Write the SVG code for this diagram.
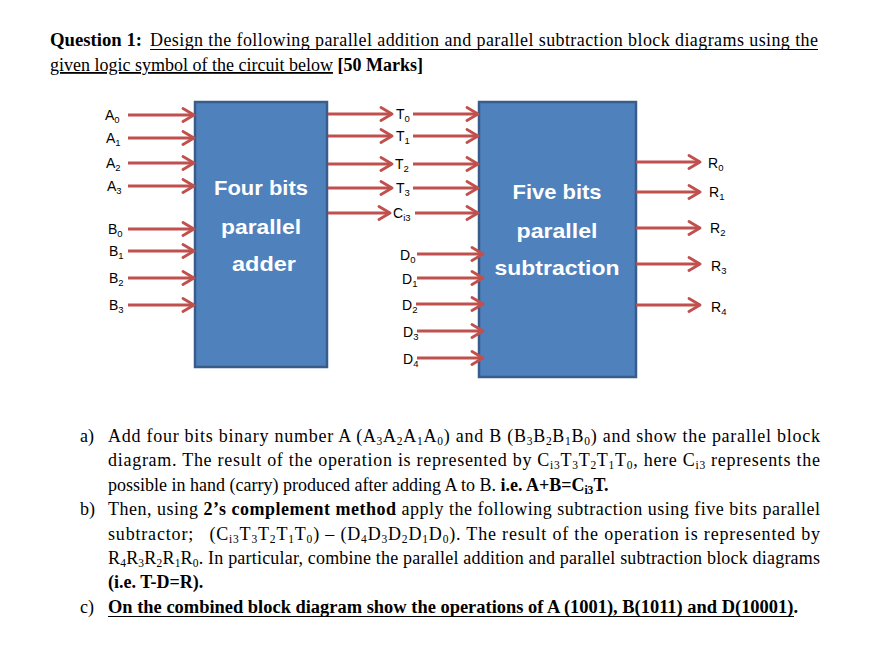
<svg xmlns="http://www.w3.org/2000/svg" width="881" height="650" viewBox="0 0 881 650">
<style>
.t{font-family:"Liberation Serif","Times New Roman",serif;font-size:18px;fill:#000}
.b{font-weight:bold}
.u{text-decoration:underline}
.s{font-size:11.5px}
.ul{stroke:#000;stroke-width:1.1}
.lbl{font-family:"Liberation Sans",Arial,sans-serif;font-size:14px;fill:#000}
.ls{font-size:9.5px}
.blk{fill:#4F81BD;stroke:#385D8A;stroke-width:2.5}
.bt{font-family:"Liberation Sans",Arial,sans-serif;font-size:21px;font-weight:bold;fill:#fff;text-anchor:middle}
.c{stroke:#C0504D;stroke-width:3;fill:none;marker-end:url(#ah)}
</style>
<defs>
<marker id="ah" markerUnits="userSpaceOnUse" markerWidth="16" markerHeight="16" viewBox="0 0 16 16" refX="13" refY="8" orient="auto">
<path d="M2,1.5 L13,8 L2,14.5" fill="none" stroke="#C0504D" stroke-width="2.8" stroke-linecap="round" stroke-linejoin="round"/>
</marker>
</defs>
<rect width="881" height="650" fill="#fff"/>

<g id="title">
<text class="t b" x="50" y="46" textLength="92" lengthAdjust="spacingAndGlyphs">Question 1:</text>
<text class="t" x="150" y="46" textLength="668" lengthAdjust="spacing">Design the following parallel addition and parallel subtraction block diagrams using the</text>
<line class="ul" x1="150" y1="49.5" x2="818" y2="49.5"/>
<text class="t" x="50" y="71"><tspan class="u">given logic symbol of the circuit below</tspan> <tspan class="b">[50 Marks]</tspan></text>
</g>

<g id="adder">
<rect class="blk" x="195" y="102" width="132" height="265"/>
<text class="bt" x="261" y="195" textLength="94" lengthAdjust="spacingAndGlyphs">Four bits</text>
<text class="bt" x="261" y="234" textLength="80" lengthAdjust="spacingAndGlyphs">parallel</text>
<text class="bt" x="264" y="271" textLength="64" lengthAdjust="spacingAndGlyphs">adder</text>
</g>

<g id="subtractor">
<rect class="blk" x="479" y="102" width="157" height="275"/>
<text class="bt" x="557" y="199" textLength="89" lengthAdjust="spacingAndGlyphs">Five bits</text>
<text class="bt" x="557" y="238" textLength="81" lengthAdjust="spacingAndGlyphs">parallel</text>
<text class="bt" x="557" y="275" textLength="125" lengthAdjust="spacingAndGlyphs">subtraction</text>
</g>

<g id="labels">
<text class="lbl" x="105" y="120">A<tspan class="ls" dy="3">0</tspan></text>
<text class="lbl" x="106" y="143">A<tspan class="ls" dy="3">1</tspan></text>
<text class="lbl" x="106" y="168">A<tspan class="ls" dy="3">2</tspan></text>
<text class="lbl" x="107" y="191">A<tspan class="ls" dy="3">3</tspan></text>
<text class="lbl" x="108" y="234">B<tspan class="ls" dy="3">0</tspan></text>
<text class="lbl" x="109" y="256">B<tspan class="ls" dy="3">1</tspan></text>
<text class="lbl" x="109" y="283">B<tspan class="ls" dy="3">2</tspan></text>
<text class="lbl" x="109" y="310">B<tspan class="ls" dy="3">3</tspan></text>

<text class="lbl" x="396" y="119">T<tspan class="ls" dy="3">0</tspan></text>
<text class="lbl" x="396" y="141">T<tspan class="ls" dy="3">1</tspan></text>
<text class="lbl" x="395" y="169">T<tspan class="ls" dy="3">2</tspan></text>
<text class="lbl" x="396" y="193">T<tspan class="ls" dy="3">3</tspan></text>
<text class="lbl" x="393" y="218">C<tspan class="ls" dy="3">i3</tspan></text>

<text class="lbl" x="400" y="260">D<tspan class="ls" dy="3">0</tspan></text>
<text class="lbl" x="402" y="284">D<tspan class="ls" dy="3">1</tspan></text>
<text class="lbl" x="402" y="310">D<tspan class="ls" dy="3">2</tspan></text>
<text class="lbl" x="403" y="337">D<tspan class="ls" dy="3">3</tspan></text>
<text class="lbl" x="403" y="364">D<tspan class="ls" dy="3">4</tspan></text>

<text class="lbl" x="708" y="168">R<tspan class="ls" dy="3">0</tspan></text>
<text class="lbl" x="709" y="197">R<tspan class="ls" dy="3">1</tspan></text>
<text class="lbl" x="710" y="233">R<tspan class="ls" dy="3">2</tspan></text>
<text class="lbl" x="711" y="271">R<tspan class="ls" dy="3">3</tspan></text>
<text class="lbl" x="711" y="312">R<tspan class="ls" dy="3">4</tspan></text>
</g>

<g id="connectors">
<line class="c" x1="128" y1="115" x2="194" y2="115"/>
<line class="c" x1="128" y1="138" x2="194" y2="138"/>
<line class="c" x1="128" y1="163" x2="194" y2="163"/>
<line class="c" x1="128" y1="186" x2="194" y2="186"/>
<line class="c" x1="128" y1="229" x2="194" y2="229"/>
<line class="c" x1="128" y1="251" x2="194" y2="251"/>
<line class="c" x1="128" y1="278" x2="194" y2="278"/>
<line class="c" x1="128" y1="305" x2="194" y2="305"/>

<line class="c" x1="328" y1="114" x2="392" y2="114"/>
<line class="c" x1="328" y1="136" x2="392" y2="136"/>
<line class="c" x1="328" y1="164" x2="392" y2="164"/>
<line class="c" x1="328" y1="188" x2="392" y2="188"/>
<line class="c" x1="328" y1="213" x2="390" y2="213"/>

<line class="c" x1="413" y1="114" x2="478" y2="114"/>
<line class="c" x1="413" y1="136" x2="478" y2="136"/>
<line class="c" x1="413" y1="164" x2="478" y2="164"/>
<line class="c" x1="413" y1="188" x2="478" y2="188"/>
<line class="c" x1="415" y1="213" x2="478" y2="213"/>

<line class="c" x1="417" y1="254" x2="483" y2="254"/>
<line class="c" x1="417" y1="278" x2="483" y2="278"/>
<line class="c" x1="416" y1="304" x2="483" y2="304"/>
<line class="c" x1="417" y1="331" x2="483" y2="331"/>
<line class="c" x1="417" y1="358" x2="483" y2="358"/>

<line class="c" x1="636" y1="162" x2="700" y2="162"/>
<line class="c" x1="636" y1="192" x2="700" y2="192"/>
<line class="c" x1="636" y1="228" x2="700" y2="228"/>
<line class="c" x1="636" y1="264" x2="700" y2="264"/>
<line class="c" x1="636" y1="305" x2="700" y2="305"/>
</g>

<g id="questions">
<text class="t" x="80" y="442">a)</text>
<text class="t" x="108" y="442" textLength="712" lengthAdjust="spacing">Add four bits binary number A (A<tspan class="s" dy="3">3</tspan><tspan dy="-3">A</tspan><tspan class="s" dy="3">2</tspan><tspan dy="-3">A</tspan><tspan class="s" dy="3">1</tspan><tspan dy="-3">A</tspan><tspan class="s" dy="3">0</tspan><tspan dy="-3">) and B (B</tspan><tspan class="s" dy="3">3</tspan><tspan dy="-3">B</tspan><tspan class="s" dy="3">2</tspan><tspan dy="-3">B</tspan><tspan class="s" dy="3">1</tspan><tspan dy="-3">B</tspan><tspan class="s" dy="3">0</tspan><tspan dy="-3">) and show the parallel block</tspan></text>
<text class="t" x="108" y="466" textLength="712" lengthAdjust="spacing">diagram. The result of the operation is represented by C<tspan class="s" dy="3">i3</tspan><tspan dy="-3">T</tspan><tspan class="s" dy="3">3</tspan><tspan dy="-3">T</tspan><tspan class="s" dy="3">2</tspan><tspan dy="-3">T</tspan><tspan class="s" dy="3">1</tspan><tspan dy="-3">T</tspan><tspan class="s" dy="3">0</tspan><tspan dy="-3">, here C</tspan><tspan class="s" dy="3">i3</tspan><tspan dy="-3"> represents the</tspan></text>
<text class="t" x="108" y="491">possible in hand (carry) produced after adding A to B. <tspan class="b">i.e. A+B=C</tspan><tspan class="s b" dy="3">i3</tspan><tspan class="b" dy="-3">T.</tspan></text>

<text class="t" x="80" y="515">b)</text>
<text class="t" x="108" y="515" textLength="712" lengthAdjust="spacing">Then, using <tspan class="b">2’s complement method</tspan> apply the following subtraction using five bits parallel</text>
<text class="t" x="108" y="540" textLength="712" lengthAdjust="spacing">subtractor; <tspan dx="10">(C</tspan><tspan class="s" dy="3">i3</tspan><tspan dy="-3">T</tspan><tspan class="s" dy="3">3</tspan><tspan dy="-3">T</tspan><tspan class="s" dy="3">2</tspan><tspan dy="-3">T</tspan><tspan class="s" dy="3">1</tspan><tspan dy="-3">T</tspan><tspan class="s" dy="3">0</tspan><tspan dy="-3">) – (D</tspan><tspan class="s" dy="3">4</tspan><tspan dy="-3">D</tspan><tspan class="s" dy="3">3</tspan><tspan dy="-3">D</tspan><tspan class="s" dy="3">2</tspan><tspan dy="-3">D</tspan><tspan class="s" dy="3">1</tspan><tspan dy="-3">D</tspan><tspan class="s" dy="3">0</tspan><tspan dy="-3">). The result of the operation is represented by</tspan></text>
<text class="t" x="108" y="564" textLength="712" lengthAdjust="spacing">R<tspan class="s" dy="3">4</tspan><tspan dy="-3">R</tspan><tspan class="s" dy="3">3</tspan><tspan dy="-3">R</tspan><tspan class="s" dy="3">2</tspan><tspan dy="-3">R</tspan><tspan class="s" dy="3">1</tspan><tspan dy="-3">R</tspan><tspan class="s" dy="3">0</tspan><tspan dy="-3">. In particular, combine the parallel addition and parallel subtraction block diagrams</tspan></text>
<text class="t b" x="108" y="588">(i.e. T-D=R).</text>

<text class="t" x="80" y="613">c)</text>
<text class="t b" x="108" y="613" textLength="690" lengthAdjust="spacingAndGlyphs">On the combined block diagram show the operations of A (1001), B(1011) and D(10001).</text>
<line class="ul" x1="108" y1="616.5" x2="794" y2="616.5"/>
</g>
</svg>
